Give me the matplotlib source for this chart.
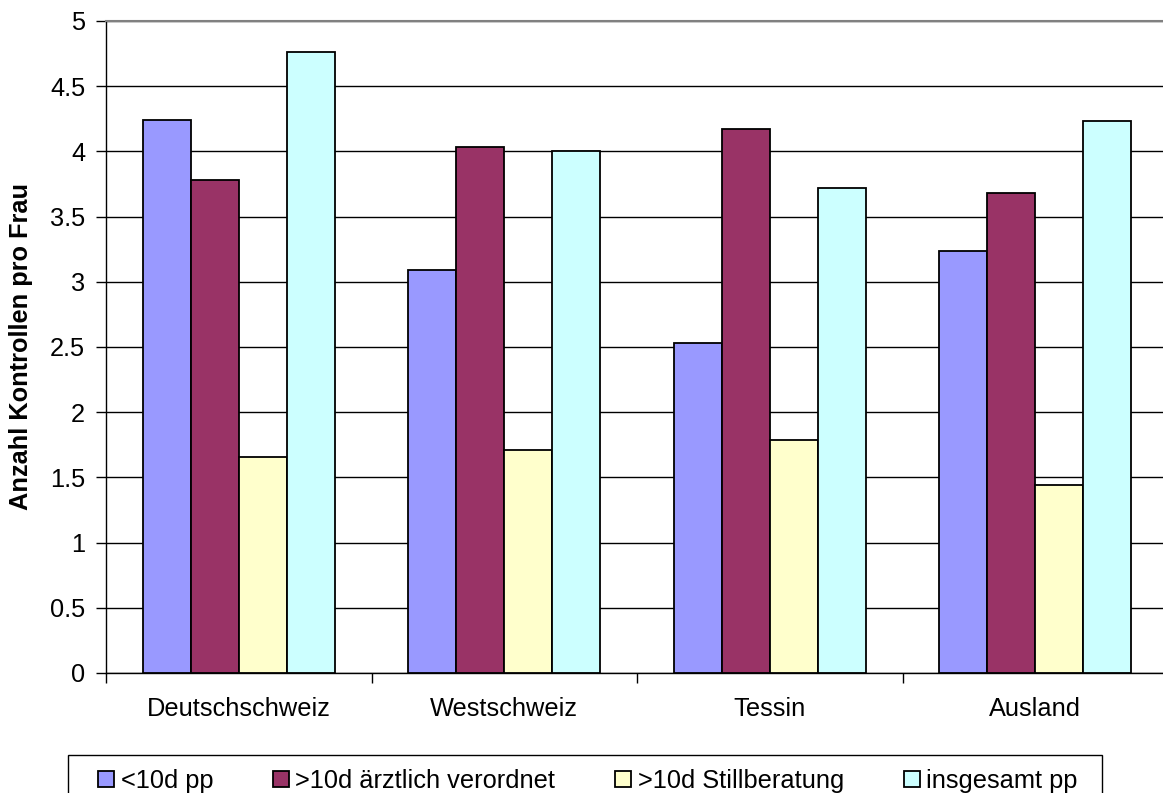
import matplotlib
matplotlib.use("Agg")
import matplotlib.pyplot as plt
import numpy as np
from matplotlib.patches import Patch, Rectangle

plt.rcParams["font.family"] = ["Liberation Sans", "DejaVu Sans"]

regions = ["Deutschschweiz", "Westschweiz", "Tessin", "Ausland"]
series_names = ["<10d pp", ">10d ärztlich verordnet", ">10d Stillberatung", "insgesamt pp"]
under_10d = [4.24, 3.09, 2.53, 3.24]
over_10d_arzt = [3.78, 4.03, 4.17, 3.68]
over_10d_still = [1.66, 1.71, 1.79, 1.44]
insgesamt = [4.76, 4.00, 3.72, 4.23]
y_ticks = [0, 0.5, 1, 1.5, 2, 2.5, 3, 3.5, 4, 4.5, 5]
y_label = "Anzahl Kontrollen pro Frau"

colors = ["#9999FF", "#993366", "#FFFFCC", "#CCFFFF"]
series = [under_10d, over_10d_arzt, over_10d_still, insgesamt]

FS = 18.3
W, H = 1163, 793
fig = plt.figure(figsize=(W / 100, H / 100), dpi=100)
# plot area runs past the right edge of the canvas
left_px, right_px, top_px, bottom_px = 106, 1168, 21, 673
ax = fig.add_axes([left_px / W, 1 - bottom_px / H,
                   (right_px - left_px) / W, (bottom_px - top_px) / H])

x = np.arange(len(regions))
bw = 0.181
for i, (vals, c, name) in enumerate(zip(series, colors, series_names)):
    ax.bar(x + (i - 1.5) * bw, vals, bw, color=c, edgecolor="black",
           linewidth=1.3, label=name, zorder=3)

ax.set_xlim(-0.5, len(regions) - 0.5)
ax.set_ylim(0, 5)
ax.set_yticks(y_ticks)
ax.set_yticklabels([f"{t:g}" for t in y_ticks], fontsize=FS)
ax.yaxis.grid(True, color="black", linewidth=1.0, zorder=0)
ax.set_axisbelow(True)

# category labels centred, tick marks on the boundaries
ax.set_xticks(x)
ax.set_xticklabels(regions, fontsize=FS)
ax.tick_params(axis="x", length=0, pad=17)
ax.set_xticks(np.arange(-0.5, len(regions) + 0.5, 1), minor=True)
ax.tick_params(axis="x", which="minor", length=7, width=1, direction="out")
ax.tick_params(axis="y", length=7, width=1, direction="out", pad=8)

ax.spines["top"].set_color("#808080")
ax.spines["top"].set_linewidth(1.5)
ax.spines["right"].set_visible(False)
ax.spines["left"].set_linewidth(1.0)
ax.spines["bottom"].set_linewidth(1.0)

fig.text(21 / W, 1 - 347 / H, y_label, rotation=90, ha="center", va="center",
         fontsize=FS, fontweight="bold")

# legend box: open at the bottom edge of the canvas
fig.patches.append(Rectangle((68 / W, 1 - 820 / H), (1102 - 68) / W, (820 - 755) / H,
                             transform=fig.transFigure, facecolor="white",
                             edgecolor="black", linewidth=1.0, zorder=1))
handles = [Patch(facecolor=c, edgecolor="black", linewidth=1.3) for c in colors]
leg = fig.legend(handles, series_names, ncol=4, loc="center left",
                 bbox_to_anchor=(98 / W, 1 - 781 / H), fontsize=FS,
                 frameon=False, handlelength=0.62, handleheight=0.62,
                 handletextpad=0.27, columnspacing=2.35, borderpad=0,
                 borderaxespad=0)
leg.set_zorder(2)

fig.savefig("out.png", dpi=100)
